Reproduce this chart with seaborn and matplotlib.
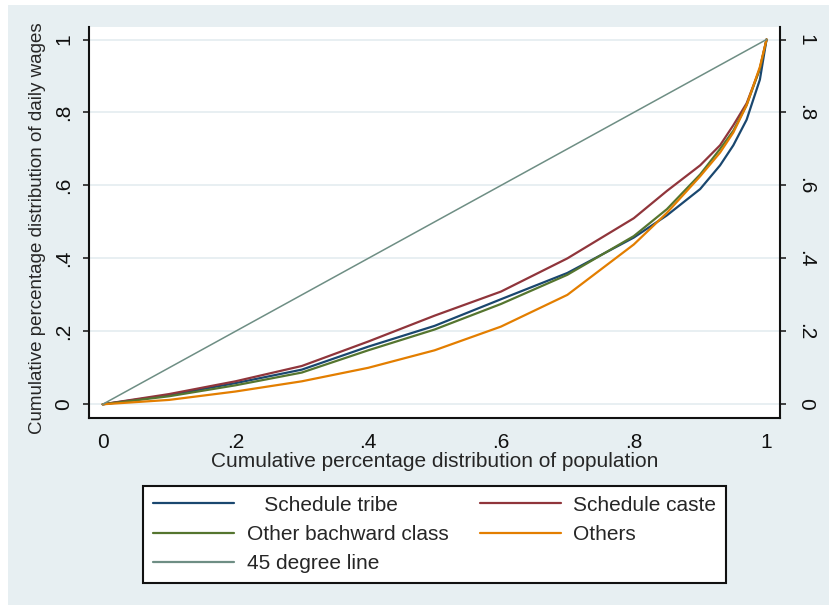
import pandas as pd
import matplotlib
matplotlib.use("Agg")
import matplotlib.pyplot as plt
import seaborn as sns
from matplotlib.lines import Line2D
from matplotlib.patches import Rectangle

# cumulative population share (x) and cumulative wage share per group (y)
pop_share = [0, .1, .2, .3, .4, .5, .6, .7, .8, .85, .9, .93, .95, .97, .99, 1]
st_wages = [0, .025, .058, .095, .158, .215, .288, .36, .457, .518, .59, .655, .71, .78, .89, 1]
sc_wages = [0, .028, .063, .105, .172, .243, .309, .40, .51, .585, .655, .71, .765, .825, .92, 1]
obc_wages = [0, .022, .052, .087, .148, .205, .275, .355, .461, .535, .63, .70, .75, .82, .92, 1]
others_wages = [0, .012, .035, .063, .10, .148, .213, .30, .438, .525, .625, .69, .745, .82, .925, 1]
diag = [0, 1]

groups = ["Schedule tribe", "Schedule caste", "Other bachward class", "Others"]
colors = ["#1A476F", "#90353B", "#55752F", "#E37E00"]
diag_color = "#6E8E84"
tick_vals = [0, .2, .4, .6, .8, 1]
tick_labels = ["0", ".2", ".4", ".6", ".8", "1"]

sns.set_style("white")
plt.rcParams['font.family'] = ['Liberation Sans', 'DejaVu Sans']

frames = []
for g, ys in zip(groups, [st_wages, sc_wages, obc_wages, others_wages]):
    frames.append(pd.DataFrame({'pop': pop_share, 'wage': ys, 'group': g}))
df = pd.concat(frames, ignore_index=True)

fig = plt.figure(figsize=(8.35, 6.1), dpi=100)
fig.patches.append(Rectangle((8 / 835, 5 / 610), 821 / 835, 600 / 610,
                             transform=fig.transFigure, facecolor="#E7EFF2",
                             edgecolor="none", zorder=-10))
ax = fig.add_axes([89 / 835, 1 - 418 / 610, 691 / 835, 391 / 610])
ax.set_facecolor("white")

sns.lineplot(data=df, x='pop', y='wage', hue='group', hue_order=groups,
             palette=colors, linewidth=1.6, sort=False, estimator=None,
             legend=False, ax=ax)
sns.lineplot(x=diag, y=diag, color=diag_color, linewidth=1.1, ax=ax)

ax.set_xlim(-0.0206, 1.0203)
ax.set_ylim(-0.0376, 1.0343)
ax.set_xticks(tick_vals)
ax.set_xticklabels(tick_labels)
ax.set_yticks(tick_vals)
ax.set_yticklabels(tick_labels)

ax.yaxis.grid(True, color="#E6EEF1", linewidth=1.3)
ax.xaxis.grid(False)
ax.set_axisbelow(True)

for side in ['left', 'right', 'bottom']:
    ax.spines[side].set_visible(True)
    ax.spines[side].set_color('#111111')
    ax.spines[side].set_linewidth(1.5)
ax.spines['top'].set_visible(False)

ax.tick_params(axis='both', direction='out', length=4.5, width=1.1,
               pad=7, labelsize=15, colors='#111111')
ax.tick_params(axis='x', pad=6)
ax.tick_params(axis='y', left=True, right=True, labelleft=True, labelright=True)
for t in ax.yaxis.get_major_ticks():
    t.label1.set_rotation(90)
    t.label1.set_va('center')
    t.label2.set_rotation(270)
    t.label2.set_va('center')

ax.set_xlabel("Cumulative percentage distribution of population", fontsize=15)
ax.xaxis.set_label_coords(0.5, -0.087)
ax.set_ylabel("Cumulative percentage distribution of daily wages", fontsize=13.5)
ax.yaxis.set_label_coords(-0.062, 0.486)

# legend: column 1 = ST, OBC, 45 line; column 2 = SC, Others
handles = [Line2D([], [], color=colors[0], lw=1.6),
           Line2D([], [], color=colors[2], lw=1.6),
           Line2D([], [], color=diag_color, lw=1.6),
           Line2D([], [], color=colors[1], lw=1.6),
           Line2D([], [], color=colors[3], lw=1.6)]
labels = ["   Schedule tribe", "Other bachward class", "45 degree line",
          "Schedule caste", "Others"]
leg = fig.legend(handles, labels, ncol=2, loc='center',
                 bbox_to_anchor=(0.5204, 0.1238), frameon=True, fancybox=False,
                 edgecolor='#111111', facecolor='white', framealpha=1,
                 fontsize=15, handlelength=3.9, handletextpad=0.6,
                 columnspacing=1.5, labelspacing=0.5, borderpad=0.45)
leg.get_frame().set_linewidth(1.5)

fig.savefig('out.png', dpi=100, facecolor='white')
